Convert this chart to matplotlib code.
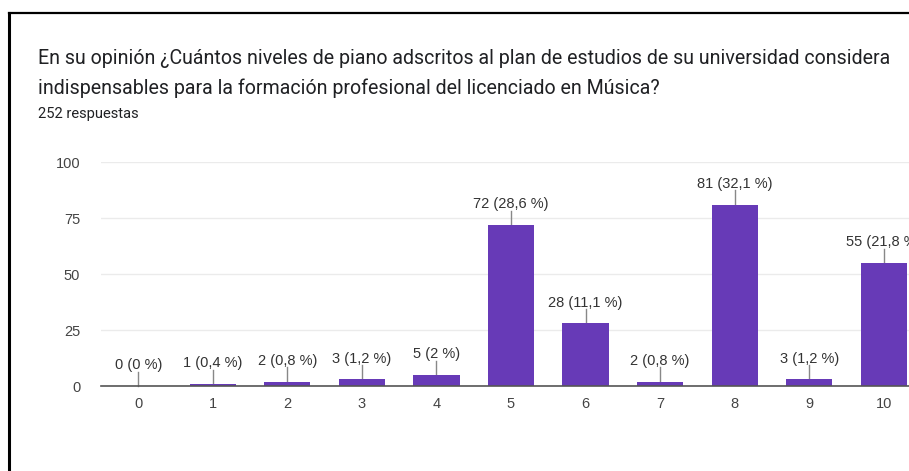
import matplotlib
matplotlib.use("Agg")
from matplotlib import pyplot as plt
from matplotlib.lines import Line2D

# Datos
niveles = ["0", "1", "2", "3", "4", "5", "6", "7", "8", "9", "10"]
respuestas = [0, 1, 2, 3, 5, 72, 28, 2, 81, 3, 55]
porcentajes = ["0", "0,4", "0,8", "1,2", "2", "28,6", "11,1", "0,8", "32,1", "1,2", "21,8"]
yticks = [0, 25, 50, 75, 100]

titulo = ("En su opinión ¿Cuántos niveles de piano adscritos al plan de estudios de su universidad considera\n"
          "indispensables para la formación profesional del licenciado en Música?")
subtitulo = "252 respuestas"

plt.rcParams['font.family'] = ['Roboto', 'DejaVu Sans']
chart_font = ['Liberation Sans', 'DejaVu Sans']

W, H = 909, 471
fig = plt.figure(figsize=(W / 100, H / 100), dpi=100)

# marco negro (arriba e izquierda)
fig.add_artist(Line2D([9 / W, 1], [1 - 13 / H, 1 - 13 / H], color="black", lw=1.6))
fig.add_artist(Line2D([9 / W, 9 / W], [1 - 13 / H, 0], color="black", lw=2.2))

fig.text(38 / W, 1 - 58 / H, titulo.split("\n")[0], fontsize=14.1, color="#202124", va="center")
fig.text(38 / W, 1 - 88 / H, titulo.split("\n")[1], fontsize=14.1, color="#202124", va="center")
fig.text(38 / W, 1 - 114 / H, subtitulo, fontsize=10.6, color="#202124", va="center")

left, right = 101, 921
top, bottom = 162, 386
ax = fig.add_axes([left / W, 1 - bottom / H, (right - left) / W, (bottom - top) / H])
x = range(len(niveles))
ax.bar(x, respuestas, width=0.62, color="#673ab7", zorder=3)
ax.set_xlim(-0.5, len(niveles) - 0.5)
ax.set_ylim(0, 100)
ax.set_yticks(yticks)
ax.set_xticks(list(x))
ax.set_xticklabels(niveles)
ax.grid(axis="y", color="#ebebeb", lw=1, zorder=0)
for s in ["top", "right", "left"]:
  ax.spines[s].set_visible(False)
ax.spines["bottom"].set_color("#555555")
ax.spines["bottom"].set_linewidth(1.2)
ax.spines["bottom"].set_zorder(4)
ax.tick_params(axis="both", length=0, labelsize=10.5, labelcolor="#444444")
ax.tick_params(axis="y", pad=15)
ax.tick_params(axis="x", pad=8)
for lab in ax.get_xticklabels() + ax.get_yticklabels():
  lab.set_family(chart_font)

# etiquetas con línea guía
for i, v in enumerate(respuestas):
  y0 = v
  y1 = v + 6.3
  ax.plot([i, i], [y0, y1], color="#888888", lw=1, zorder=2, clip_on=False)
  ax.text(i, y1 - 0.2, f"{v} ({porcentajes[i]} %)", ha="center", va="bottom",
          fontsize=10.5, color="#333333", family=chart_font, clip_on=False)

fig.savefig("out.png", dpi=100)
